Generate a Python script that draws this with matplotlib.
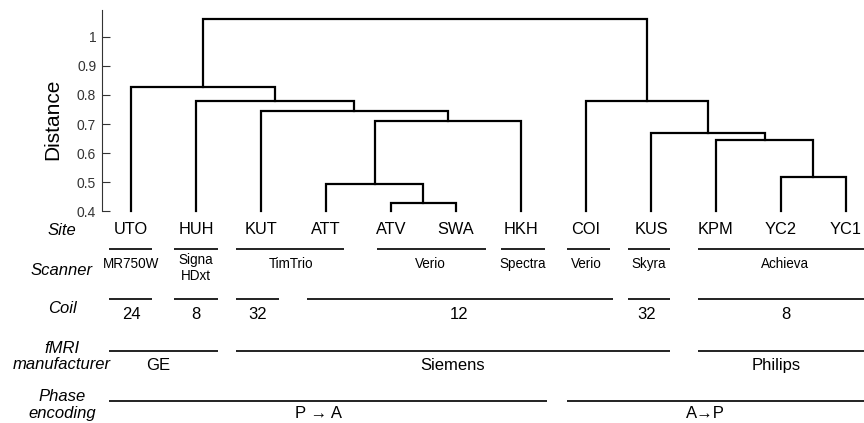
import matplotlib
matplotlib.use('Agg')
import matplotlib.pyplot as plt

plt.rcParams['font.family'] = ['Liberation Sans', 'DejaVu Sans']

# --------- 데이터 ---------
sites = ['UTO', 'HUH', 'KUT', 'ATT', 'ATV', 'SWA', 'HKH', 'COI', 'KUS', 'KPM', 'YC2', 'YC1']

# 병합 순서: (왼쪽, 오른쪽, 거리) - 0~11은 사이트, 12부터는 앞에서 만든 클러스터
merges = [
    (4, 5, 0.429),    # 12 ATV-SWA
    (3, 12, 0.494),   # 13 ATT
    (10, 11, 0.518),  # 14 YC2-YC1
    (9, 14, 0.645),   # 15 KPM
    (8, 15, 0.669),   # 16 KUS
    (13, 6, 0.710),   # 17 HKH
    (2, 17, 0.744),   # 18 KUT
    (1, 18, 0.779),   # 19 HUH
    (7, 16, 0.779),   # 20 COI
    (0, 19, 0.827),   # 21 UTO
    (21, 20, 1.061),  # 22 root
]

# 아래 표 (라벨, 시작, 끝) - 사이트 인덱스 단위
scanner_spans = [(-0.34, 0.33), (0.66, 1.34), (1.62, 3.28), (3.78, 5.46),
                 (5.69, 6.37), (6.70, 7.37), (7.64, 8.30), (8.73, 11.4)]
scanner_labels = ['MR750W', 'Signa\nHDxt', 'TimTrio', 'Verio', 'Spectra', 'Verio', 'Skyra', 'Achieva']
scanner_pos = [0.0, 1.0, 2.47, 4.61, 6.03, 7.0, 7.97, 10.06]

coil_spans = [(-0.34, 0.33), (0.66, 1.34), (1.62, 2.28), (2.70, 7.41), (7.64, 8.30), (8.73, 11.4)]
coil_labels = ['24', '8', '32', '12', '32', '8']
coil_pos = [0.0, 1.0, 1.95, 5.05, 7.94, 10.07]

maker_spans = [(-0.34, 1.34), (1.62, 8.30), (8.73, 11.4)]
maker_labels = ['GE', 'Siemens', 'Philips']
maker_pos = [0.42, 4.95, 9.93]

phase_spans = [(-0.34, 6.40), (6.70, 11.4)]
phase_labels = ['P \u2192 A', 'A\u2192P']
phase_pos = [2.88, 8.84]

row_names = ['Site', 'Scanner', 'Coil', 'fMRI\nmanufacturer', 'Phase\nencoding']

# --------- 레이아웃 (픽셀 기준) ---------
W, H = 864, 423
X0, Y0 = 101.7, 211.3      # 축 왼쪽, 거리 0.4 위치
STEP = 65.0                # 사이트 간격
XMIN = (X0 - 131) / STEP
XMAX = (W - 131) / STEP
YTOP = 0.4 + (Y0 - 10) / 291.0

fig = plt.figure(figsize=(W / 100, H / 100), dpi=100)
ax = fig.add_axes([X0 / W, (H - Y0) / H, (W - X0) / W, (Y0 - 10) / H])
ax.set_xlim(XMIN, XMAX)
ax.set_ylim(0.4, YTOP)

# --------- 덴드로그램 ---------
xs = {i: float(i) for i in range(len(sites))}
hs = {i: 0.4 for i in range(len(sites))}
for k, (a, b, h) in enumerate(merges):
    node = len(sites) + k
    ax.plot([xs[a], xs[a], xs[b], xs[b]], [hs[a], h, h, hs[b]],
             color='black', lw=1.6, clip_on=False, solid_joinstyle='miter')
    xs[node] = (xs[a] + xs[b]) / 2
    hs[node] = h

for s in ['top', 'right', 'bottom']:
    ax.spines[s].set_visible(False)
ax.spines['left'].set_color('#333333')
ax.spines['left'].set_linewidth(0.8)
ax.set_xticks([])
yt = [0.4, 0.5, 0.6, 0.7, 0.8, 0.9, 1.0]
ax.set_yticks(yt)
ax.set_yticklabels([f'{v:g}' for v in yt])
ax.tick_params(axis='y', direction='in', length=5.5, width=0.8, color='#333333',
               labelsize=10, labelcolor='#333333', pad=4)
ax.set_ylabel('Distance', fontsize=15, va='center')
ax.yaxis.set_label_coords((52.3 - X0) / (W - X0), (Y0 - 119) / (Y0 - 10))

# --------- 아래 표 ---------
ann = fig.add_axes([X0 / W, 0, (W - X0) / W, (H - Y0) / H])
ann.set_xlim(XMIN, XMAX)
ann.set_ylim(H, Y0)
ann.axis('off')

for i, s in enumerate(sites):
    ann.text(i, 229.5, s, ha='center', va='center', fontsize=11.75)


def draw_row(spans, labels, pos, line_y, text_y, size):
    for (x1, x2), lab, p in zip(spans, labels, pos):
        ann.plot([x1, x2], [line_y, line_y], color='#111111', lw=1.3,
                 solid_capstyle='butt', clip_on=False)
        ty = text_y + (4.5 if '\n' in lab else 0)
        ann.text(p, ty, lab, ha='center', va='center', fontsize=size,
                 linespacing=1.15)


draw_row(scanner_spans, scanner_labels, scanner_pos, 249, 263.5, 9.75)
draw_row(coil_spans, coil_labels, coil_pos, 299.3, 314, 12)
draw_row(maker_spans, maker_labels, maker_pos, 350.7, 365.5, 12)
draw_row(phase_spans, phase_labels, phase_pos, 400.5, 413, 12)

name_x = (62 - 131) / STEP
for name, y in zip(row_names, [230.5, 270.5, 308.5, 356.5, 405]):
    ann.text(name_x, y, name, ha='center', va='center', fontsize=12,
             style='italic', linespacing=1.1, clip_on=False)

plt.savefig('out.png', dpi=100)
